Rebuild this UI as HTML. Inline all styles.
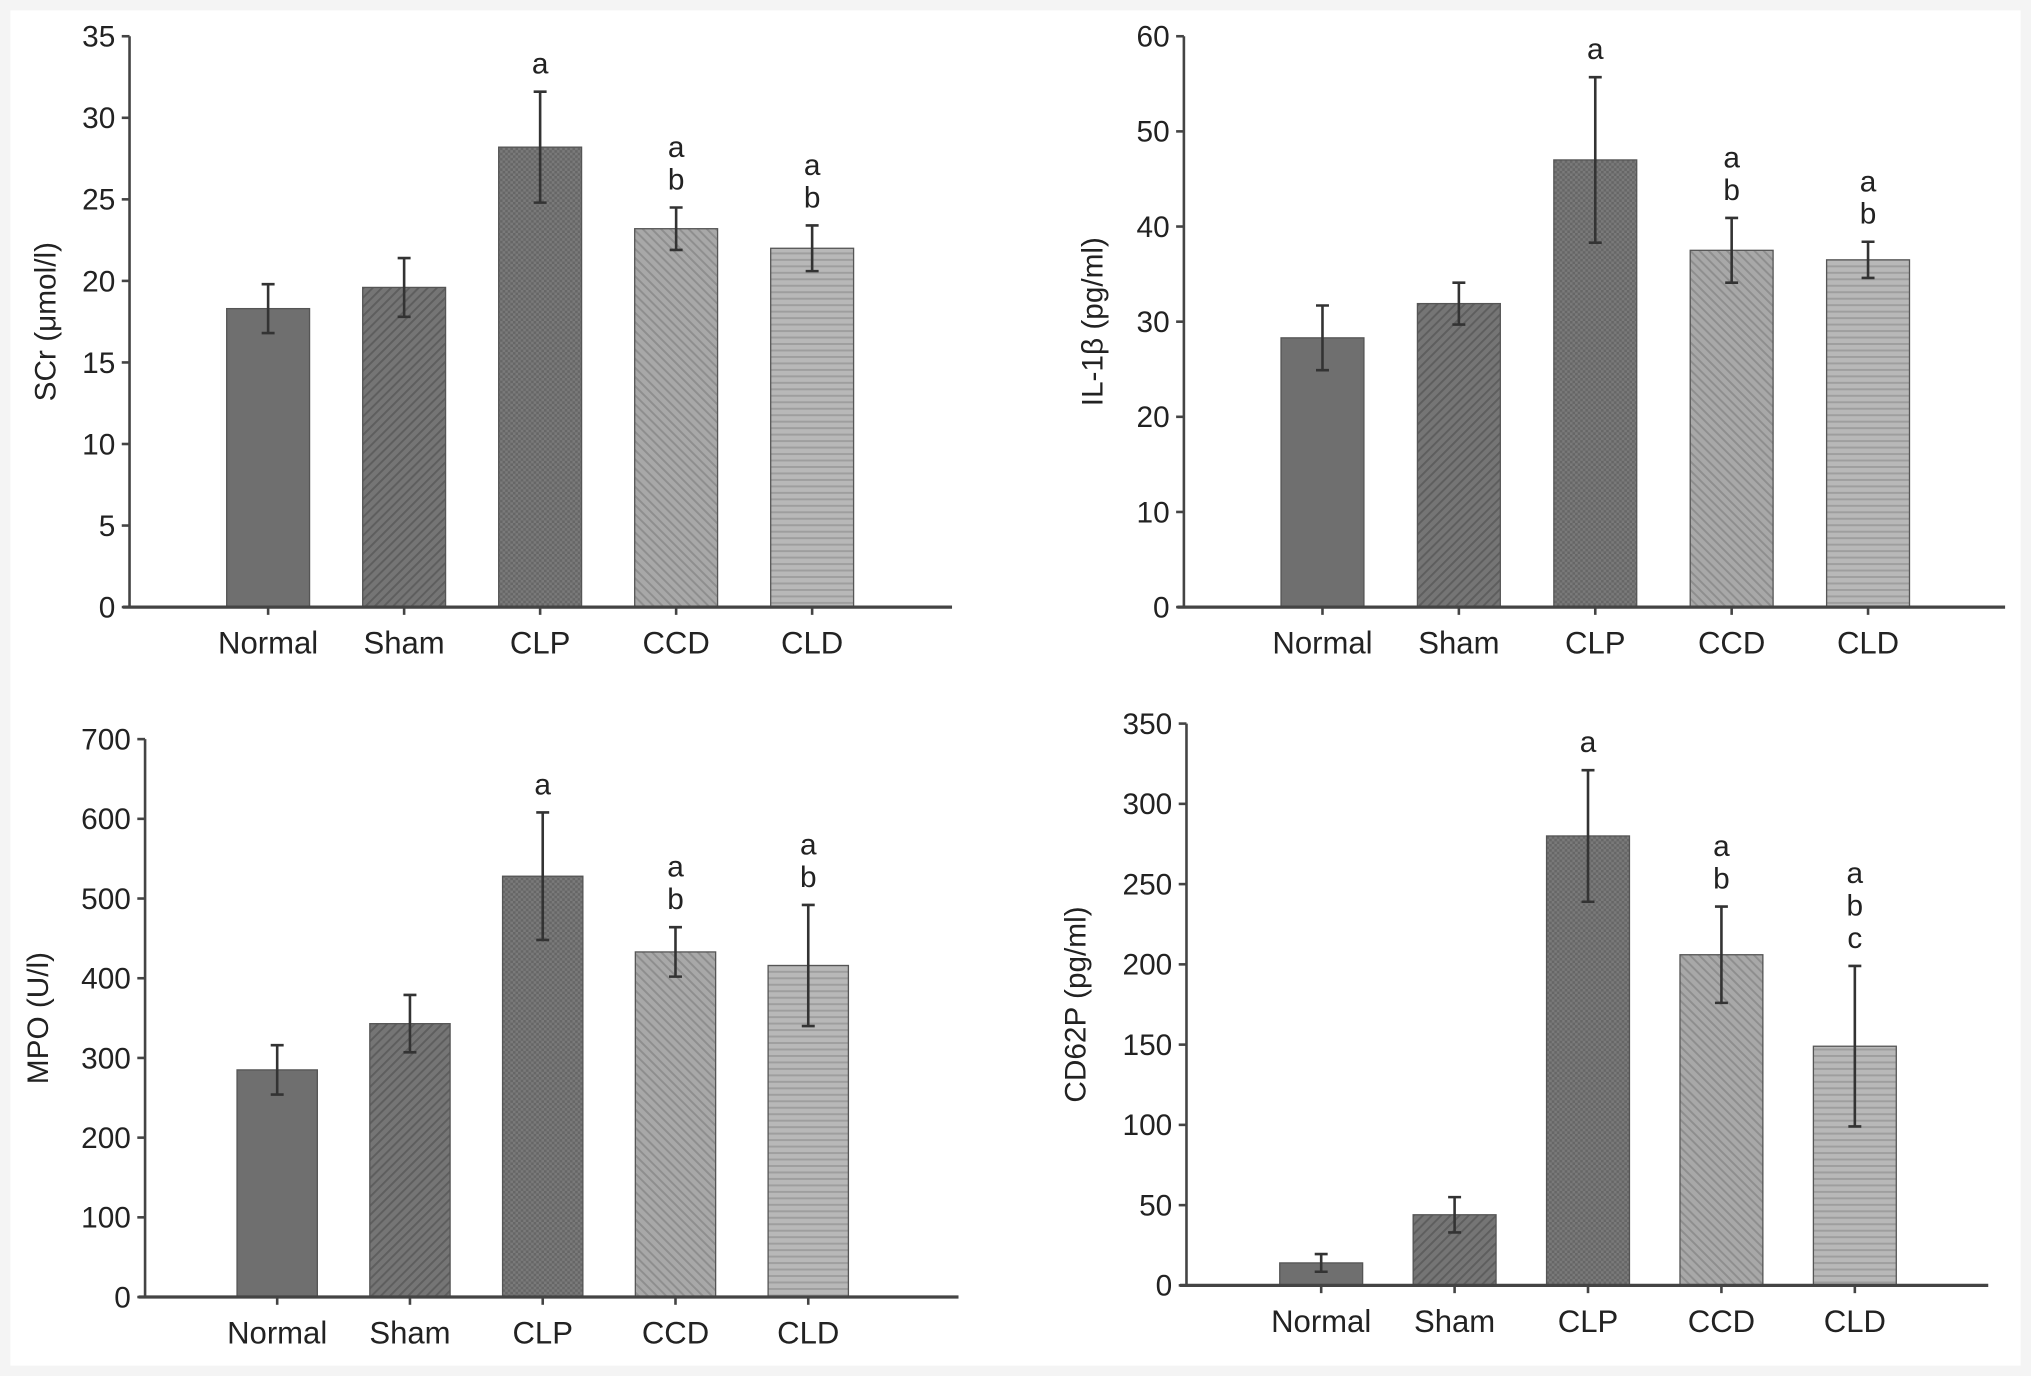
<!DOCTYPE html>
<html><head><meta charset="utf-8"><style>
html,body{margin:0;padding:0;background:#f4f4f4;}
svg{display:block;}
text{font-family:"Liberation Sans Narrow","Liberation Sans",sans-serif;fill:#222;}
</style></head><body>
<svg id="fig" width="2031" height="1376" viewBox="0 0 1568 1063" preserveAspectRatio="none" xmlns="http://www.w3.org/2000/svg">
<defs>
<pattern id="pSham" width="5" height="5" patternUnits="userSpaceOnUse" patternTransform="rotate(45)"><rect width="5" height="5" fill="#757575"/><rect width="1.5" height="5" fill="#5e5e5e"/></pattern>
<pattern id="pCLP" width="4" height="4" patternUnits="userSpaceOnUse"><rect width="4" height="4" fill="#7a7a7a"/><rect width="2" height="2" fill="#666"/><rect x="2" y="2" width="2" height="2" fill="#666"/></pattern>
<pattern id="pCCD" width="5" height="5" patternUnits="userSpaceOnUse" patternTransform="rotate(-45)"><rect width="5" height="5" fill="#a8a8a8"/><rect width="1.5" height="5" fill="#8e8e8e"/></pattern>
<pattern id="pCLD" width="5" height="5" patternUnits="userSpaceOnUse"><rect width="5" height="5" fill="#b8b8b8"/><rect width="5" height="1.5" fill="#9e9e9e"/></pattern>
</defs>
<rect x="8" y="8" width="1552" height="1047" fill="#fff"/>
</svg>
<script>
const categories = ["Normal","Sham","CLP","CCD","CLD"];
const scrValues = [18.3,19.6,28.2,23.2,22.0];
const scrErr = [1.5,1.8,3.4,1.3,1.4];
const scrLetters = [[],[],["a"],["a","b"],["a","b"]];
const scrTicks = [0,5,10,15,20,25,30,35];
const il1Values = [28.3,31.9,47.0,37.5,36.5];
const il1Err = [3.4,2.2,8.7,3.4,1.9];
const il1Letters = [[],[],["a"],["a","b"],["a","b"]];
const il1Ticks = [0,10,20,30,40,50,60];
const mpoValues = [285,343,528,433,416];
const mpoErr = [31,36,80,31,76];
const mpoLetters = [[],[],["a"],["a","b"],["a","b"]];
const mpoTicks = [0,100,200,300,400,500,600,700];
const cd62Values = [14,44,280,206,149];
const cd62Err = [5.5,11,41,30,50];
const cd62Letters = [[],[],["a"],["a","b"],["a","b","c"]];
const cd62Ticks = [0,50,100,150,200,250,300,350];

const fills = ["#6f6f6f","url(#pSham)","url(#pCLP)","url(#pCCD)","url(#pCLD)"];
const NS = "http://www.w3.org/2000/svg";
const svg = document.getElementById('fig');
function mk(tag, attrs, parent, txt){
  const e = document.createElementNS(NS, tag);
  for (const k in attrs) e.setAttribute(k, attrs[k]);
  if (txt !== undefined) e.textContent = txt;
  parent.appendChild(e);
  return e;
}
function drawChart(name, cfg, values, errs, letters, ticks, title){
  const g = mk('g', {}, svg);
  
  
  const max = ticks[ticks.length-1];
  const y = v => cfg.y0 - (v / max) * (cfg.y0 - cfg.yTop);
  const x = i => cfg.x0 + cfg.first + i * cfg.step;
  // bars
  values.forEach((v, i) => {
    const r = mk('rect', {x: x(i) - cfg.bw/2, y: y(v), width: cfg.bw, height: cfg.y0 - y(v), fill: fills[i], stroke: '#555', 'stroke-width': 1}, g);
    
    
    const top = y(v + errs[i]), bot = y(v - errs[i]);
    const eb = mk('path', {d: `M${x(i)},${top}V${bot}M${x(i)-5},${top}H${x(i)+5}M${x(i)-5},${bot}H${x(i)+5}`, stroke: '#333', 'stroke-width': 2, fill: 'none'}, g);
    
    
    const L = letters[i];
    L.forEach((ch, j) => {
      const t = mk('text', {x: x(i), y: top - 14 - (L.length - 1 - j) * 25, 'text-anchor': 'middle', 'font-size': 23}, g, ch);
      
      
    });
    const lb = mk('text', {x: x(i), y: cfg.y0 + 36, 'text-anchor': 'middle', 'font-size': 24}, g, categories[i]);
    
    
    mk('line', {x1: x(i), x2: x(i), y1: cfg.y0, y2: cfg.y0 + 6, stroke: '#444', 'stroke-width': 2}, g);
  });
  // axes
  const ya = mk('line', {x1: cfg.x0, x2: cfg.x0, y1: cfg.yTop, y2: cfg.y0, stroke: '#444', 'stroke-width': 2}, g);
  
  
  const xa = mk('line', {x1: cfg.x0 - 5, x2: cfg.xEnd, y1: cfg.y0, y2: cfg.y0, stroke: '#444', 'stroke-width': 2.5}, g);
  
  
  ticks.forEach(tv => {
    mk('line', {x1: cfg.x0 - 6, x2: cfg.x0, y1: y(tv), y2: y(tv), stroke: '#444', 'stroke-width': 2}, g);
    const t = mk('text', {x: cfg.x0 - 11, y: y(tv) + 8, 'text-anchor': 'end', 'font-size': 23}, g, tv);
    
    
  });
  const cy = (cfg.y0 + cfg.yTop) / 2;
  const tt = mk('text', {x: cfg.titleX, y: cy, 'text-anchor': 'middle', 'font-size': 23, transform: `rotate(-90 ${cfg.titleX} ${cy})`}, g, title);
  
  
}
drawChart('scr', {x0:100, y0:469, yTop:28, xEnd:735, first:107, step:105, bw:64, titleX:43}, scrValues, scrErr, scrLetters, scrTicks, 'SCr (\u03bcmol/l)');
drawChart('il1b', {x0:914, y0:469, yTop:28, xEnd:1548, first:107, step:105.3, bw:64, titleX:851}, il1Values, il1Err, il1Letters, il1Ticks, 'IL-1\u03b2 (pg/ml)');
drawChart('mpo', {x0:112, y0:1002, yTop:571, xEnd:740, first:102, step:102.5, bw:62, titleX:37}, mpoValues, mpoErr, mpoLetters, mpoTicks, 'MPO (U/l)');
drawChart('cd62p', {x0:916, y0:993, yTop:559, xEnd:1535, first:104, step:103, bw:64, titleX:838}, cd62Values, cd62Err, cd62Letters, cd62Ticks, 'CD62P (pg/ml)');
</script>
</body></html>
